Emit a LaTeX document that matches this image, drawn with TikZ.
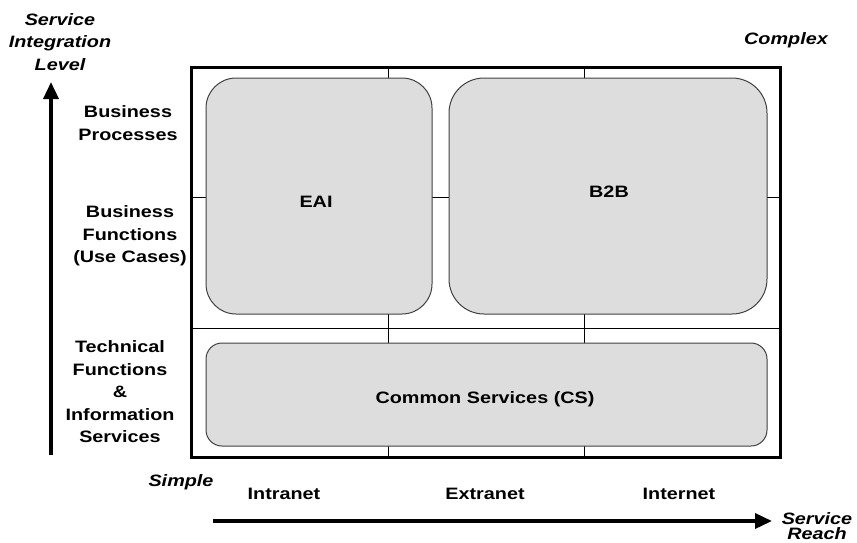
\documentclass[tikz,border=0pt]{standalone}
\usepackage{fontspec}
\setmainfont{Liberation Sans}[FakeStretch=1.2]
\usetikzlibrary{arrows.meta}
\definecolor{boxfill}{HTML}{DDDDDD}
\definecolor{boxline}{HTML}{404040}
\newcommand\labfont{\fontsize{16.5}{22.5}\selectfont\bfseries}
\newcommand\axisfont{\fontsize{16.5}{22.5}\selectfont\bfseries\itshape}
\newcommand\reachfont{\fontsize{16.5}{15}\selectfont\bfseries\itshape}
\tikzset{
  rbox/.style={draw=boxline, line width=1pt, fill=boxfill, inner sep=0pt},
  lab/.style={font=\labfont, inner sep=0pt, align=center},
  axislab/.style={font=\axisfont, inner sep=0pt, align=center},
  axisarrow/.style={line width=3.5pt, -{Triangle[width=15pt,length=17pt]}},
  frame/.style={line width=3pt},
  gridline/.style={line width=1pt},
}
\begin{document}
\begin{tikzpicture}[x=1pt, y=-1pt]
\useasboundingbox (0,0) rectangle (857,542);

% grid corners and dividers
\coordinate (tl) at (191,67);
\coordinate (br) at (780,457);
\coordinate (v1t) at (388,67);  \coordinate (v1b) at (388,457);
\coordinate (v2t) at (584,67);  \coordinate (v2b) at (584,457);
\coordinate (h1l) at (191,197); \coordinate (h1r) at (780,197);
\coordinate (h2l) at (191,328); \coordinate (h2r) at (780,328);

\draw[gridline] (v1t) -- (v1b) (v2t) -- (v2b) (h1l) -- (h1r) (h2l) -- (h2r);
\draw[frame] (tl) rectangle (br);

% service areas
\node[rbox, minimum width=226pt, minimum height=236pt, rounded corners=30pt] (eai) at (319,196) {};
\node[rbox, minimum width=318pt, minimum height=236pt, rounded corners=35pt] (b2b) at (608,196) {};
\node[rbox, minimum width=561pt, minimum height=103pt, rounded corners=16pt] (cs) at (486.5,394.5) {};

\node[lab, anchor=base] (eaiT) at (316,207) {EAI};
\node[lab, anchor=base] (b2bT) at (609,197) {B2B};
\node[lab, anchor=base] (csT) at (485,403) {Common Services (CS)};

% level labels
\node[lab, anchor=north] (bp) at (128,105.5) {Business\\Processes};
\node[lab, anchor=north] (bf) at (130,205.5) {Business\\Functions\\(Use Cases)};
\node[lab, anchor=north] (tf) at (120,340.5) {Technical\\Functions\\\&\\Information\\Services};

% reach labels
\node[lab, anchor=base] (intra) at (284,499) {Intranet};
\node[lab, anchor=base] (extra) at (485,499) {Extranet};
\node[lab, anchor=base] (inter) at (679,499) {Internet};

% axes
\node[axislab, anchor=north] (sil) at (60,13) {Service\\Integration\\Level};
\node[axislab, anchor=base] (cx) at (786,44) {Complex};
\node[axislab, anchor=base] (sp) at (181,486) {Simple};
\node[font=\reachfont, inner sep=0pt, align=center, anchor=north] (sr) at (817,512.5) {Service\\Reach};

\coordinate (vbot) at (51,455);
\coordinate (vtop) at (51,82);
\coordinate (hleft) at (213,521);
\coordinate (hright) at (772,521);
\draw[axisarrow] (vbot) -- (vtop);
\draw[axisarrow] (hleft) -- (hright);
\end{tikzpicture}
\end{document}
